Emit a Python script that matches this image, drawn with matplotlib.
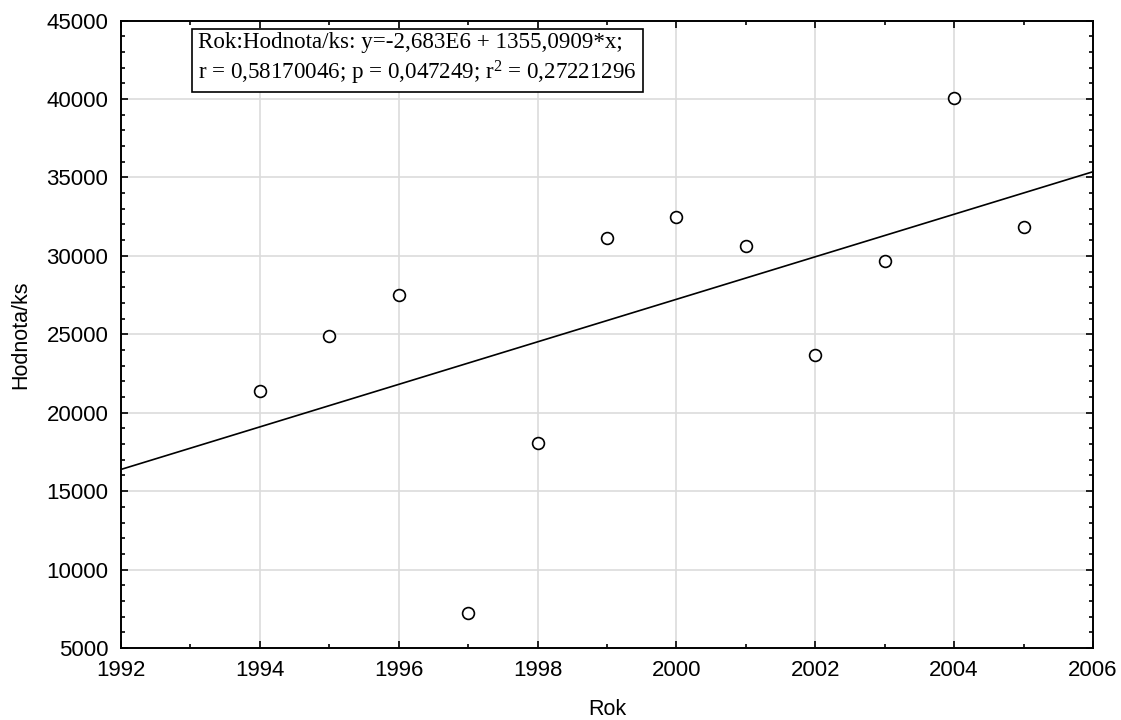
import numpy as np
import matplotlib
matplotlib.use("Agg")
import matplotlib.pyplot as plt
from matplotlib.ticker import MultipleLocator

years = [1994, 1995, 1996, 1997, 1998, 1999, 2000, 2001, 2002, 2003, 2004, 2005]
values = [21400, 24900, 27500, 7250, 18050, 31150, 32450, 30650, 23700, 29650, 40050, 31850]
x_label = "Rok"
y_label = "Hodnota/ks"
box_text = ("Rok:Hodnota/ks: y=-2,683E6 + 1355,0909*x;\n"
            "r = 0,58170046; p = 0,047249; r$^{2}$ = 0,27221296")

plt.rcParams['font.family'] = ['Liberation Sans', 'DejaVu Sans']
plt.rcParams['mathtext.fontset'] = 'custom'
plt.rcParams['mathtext.rm'] = 'Liberation Serif'
plt.rcParams['mathtext.it'] = 'Liberation Serif'
plt.rcParams['mathtext.default'] = 'rm'

fig = plt.figure(figsize=(11.21, 7.2), dpi=100)
ax = fig.add_axes([0.1079, 0.1, 0.975 - 0.1079, 0.9715 - 0.1])

x = np.array(years, dtype=float)
y = np.array(values, dtype=float)
slope, intercept = np.polyfit(x, y, 1)
xl = np.array([1992, 2006], dtype=float)
ax.plot(xl, intercept + slope * xl, color='black', lw=1.2, zorder=3)
ax.plot(x, y, 'o', ms=8.5, mfc='white', mec='black', mew=1.2, zorder=4, clip_on=False)

ax.set_xlim(1992, 2006)
ax.set_ylim(5000, 45000)
ax.xaxis.set_major_locator(MultipleLocator(2))
ax.xaxis.set_minor_locator(MultipleLocator(1))
ax.yaxis.set_major_locator(MultipleLocator(5000))
ax.yaxis.set_minor_locator(MultipleLocator(1000))
ax.tick_params(which='both', direction='in', top=True, right=True, width=1.2, labelsize=16, colors='black')
ax.tick_params(which='major', length=5)
ax.tick_params(axis='x', which='major', pad=9)
ax.tick_params(axis='y', which='major', pad=9)
ax.tick_params(which='minor', length=3)
ax.grid(True, which='major', color='#dcdcdc', lw=1.2, zorder=0)
ax.set_axisbelow(True)
for s in ax.spines.values():
    s.set_linewidth(1.4)

ax.set_xlabel(x_label, fontsize=15.5, labelpad=12.5)
ax.set_ylabel(y_label, fontsize=15.5, labelpad=11)

ax.text(0.0795, 0.982, box_text, transform=ax.transAxes, ha='left', va='top',
        fontsize=16.6, family=['Liberation Serif', 'DejaVu Serif'], linespacing=1.27,
        bbox=dict(boxstyle='square,pad=0.25', fc='white', ec='black', lw=1.2), zorder=5)

fig.savefig("out.png", dpi=100)
